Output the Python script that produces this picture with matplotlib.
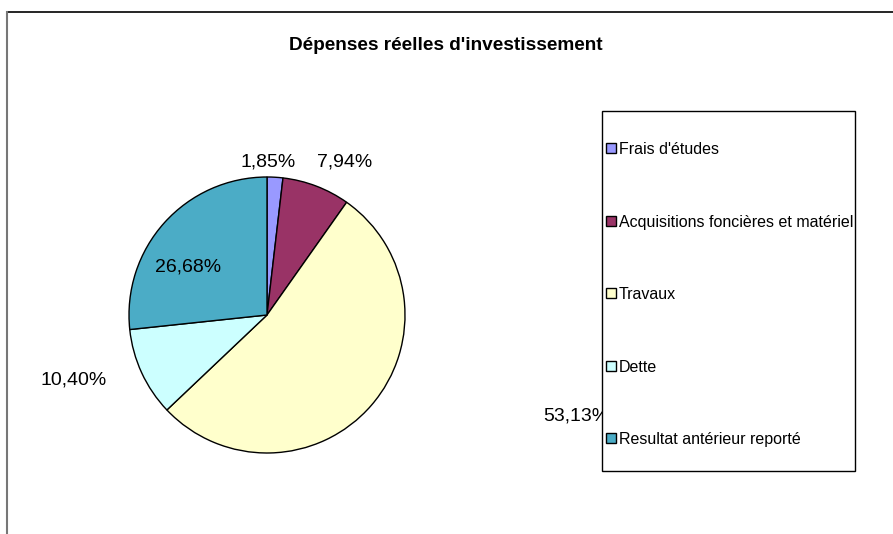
import matplotlib
matplotlib.use("Agg")
import matplotlib.pyplot as plt
from matplotlib.patches import Rectangle
from matplotlib.lines import Line2D

plt.rcParams['font.family'] = ['Liberation Sans', 'DejaVu Sans']

title = "Dépenses réelles d'investissement"
categories = ["Frais d'études", "Acquisitions foncières et matériel", "Travaux",
              "Dette", "Resultat antérieur reporté"]
values = [1.85, 7.94, 53.13, 10.40, 26.68]
colors = ["#9999FF", "#993366", "#FFFFCC", "#CCFFFF", "#4BACC6"]

W, H = 893, 534
fig = plt.figure(figsize=(W / 100, H / 100), dpi=100)

# Frame lines (chart area border)
fig.add_artist(Line2D([7 / W, 1], [1 - 12 / H, 1 - 12 / H], color="black", lw=1.2))
fig.add_artist(Line2D([7 / W, 7 / W], [0, 1 - 12 / H], color="#777777", lw=1.5))

fig.text(446 / W, 1 - 45 / H, title, ha="center", va="center", fontsize=13.7, fontweight="bold")

cx, cy, r = 267, 315, 138
ax = fig.add_axes([(cx - r) / W, (H - cy - r) / H, 2 * r / W, 2 * r / H])
wedges, _ = ax.pie(values, colors=colors, startangle=90, counterclock=False,
                   wedgeprops=dict(edgecolor="black", linewidth=1.0))
ax.set_xlim(-1, 1)
ax.set_ylim(-1, 1)
ax.set_aspect("auto")
ax.axis("off")

# label positions (pixels in figure) converted to pie-data coords
label_px = [(268, 162), (345, 162), (576, 416), (74, 380), (188, 267)]
for v, (px, py) in zip(values, label_px):
    ax.text((px - cx) / r, (cy - py) / r, f"{v:.2f}".replace(".", ",") + "%",
            ha="center", va="center", fontsize=14, clip_on=False)

# legend box
fig.add_artist(Rectangle((602 / W, 1 - 471 / H), 253 / W, 360 / H, transform=fig.transFigure,
                         facecolor="white", edgecolor="black", linewidth=1.0, zorder=4))
handles = [Rectangle((0, 0), 1, 1, facecolor=c, edgecolor="black", linewidth=1.0) for c in colors]
leg = fig.legend(handles, categories, loc="upper left",
                 bbox_to_anchor=(606 / W, 1 - 142 / H),
                 borderaxespad=0, borderpad=0, fontsize=11.5,
                 handlelength=0.6, handleheight=0.6, handletextpad=0.2,
                 labelspacing=3.6, frameon=False)
leg.set_zorder(5)

fig.savefig("out.png", dpi=100)
